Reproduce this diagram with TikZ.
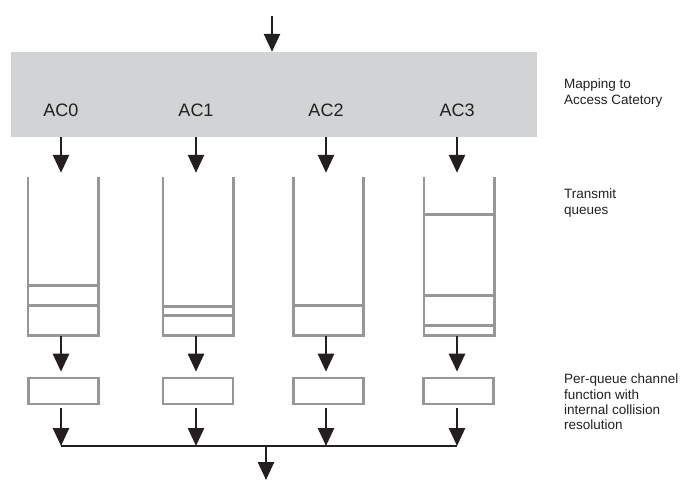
\documentclass[tikz,border=0pt]{standalone}
\usepackage{fontspec}
\setmainfont{Liberation Sans}
\usetikzlibrary{arrows.meta}
\definecolor{mapfill}{RGB}{209,211,212}
\definecolor{qgray}{RGB}{150,150,150}
\definecolor{ink}{RGB}{35,31,32}
\begin{document}
\begin{tikzpicture}[x=1pt,y=-1pt,
  arr/.style={draw=ink, line width=2.6pt, -{Triangle[length=18pt,width=16pt]}},
  busline/.style={draw=ink, line width=2.6pt},
  mapbox/.style={fill=mapfill, inner sep=0, minimum width=526pt, minimum height=85pt},
  aclabel/.style={inner sep=0, font=\fontsize{18}{20}\selectfont, text=ink},
  queue/.style={inner sep=0, minimum width=70pt, minimum height=158pt},
  qline/.style={draw=qgray, line width=2.6pt},
  chbox/.style={draw=qgray, line width=2.6pt, inner sep=0, minimum width=70pt, minimum height=26pt},
  note/.style={inner sep=0, anchor=north west, align=left, font=\fontsize{13.5}{15.3}\selectfont, text=ink},
]
\useasboundingbox (0,0) rectangle (684,481);

% mapping stage
\node[mapbox] (map) at (274,94.5) {};
\coordinate (src) at (272,16);
\draw[arr] (src) -- (src |- map.north);

\node[aclabel] (ac0) at (61,110.5) {AC0};
\node[aclabel] (ac1) at (196,110.5) {AC1};
\node[aclabel] (ac2) at (326,110.5) {AC2};
\node[aclabel] (ac3) at (457,110.5) {AC3};

% transmit queues (open-topped)
\node[queue] (q0) at (63,256) {};
\node[queue] (q1) at (198,256) {};
\node[queue] (q2) at (328.5,256) {};
\node[queue] (q3) at (459,256) {};
\foreach \q in {q0,q1,q2,q3}
  \draw[qline] (\q.north west) -- (\q.south west) -- (\q.south east) -- (\q.north east);

% queued frames
\foreach \q/\h in {q0/50, q0/30, q1/29, q1/20, q2/30, q3/121, q3/40, q3/10}
  \draw[qline] ([yshift=\h pt]\q.south west) -- ([yshift=\h pt]\q.south east);

% per-queue channel functions
\node[chbox] (ch0) at (63.5,391) {};
\node[chbox] (ch1) at (198,391) {};
\node[chbox] (ch2) at (328.5,391) {};
\node[chbox] (ch3) at (458.5,391) {};

% merge bus and output
\coordinate (bus) at (266,446);
\coordinate (sink) at (266,480);

\foreach \i in {0,1,2,3} {
  \draw[arr, shorten >=4pt] (ac\i |- map.south) -- (ac\i |- q\i.north);
  \draw[arr, shorten <=1pt, shorten >=5pt] (ac\i |- q\i.south) -- (ac\i |- ch\i.north);
  \draw[arr, shorten <=3pt] (ac\i |- ch\i.south) -- (ac\i |- bus);
}
\draw[busline] (ac0 |- bus) -- (ac3 |- bus);
\draw[arr] (bus) -- (sink);

% stage descriptions
\node[note] (n1) at (564,79) {Mapping to\\Access Catetory};
\node[note] (n2) at (564,189) {Transmit\\queues};
\node[note] (n3) at (564,374) {Per-queue channel\\function with\\internal collision\\resolution};
\end{tikzpicture}
\end{document}
